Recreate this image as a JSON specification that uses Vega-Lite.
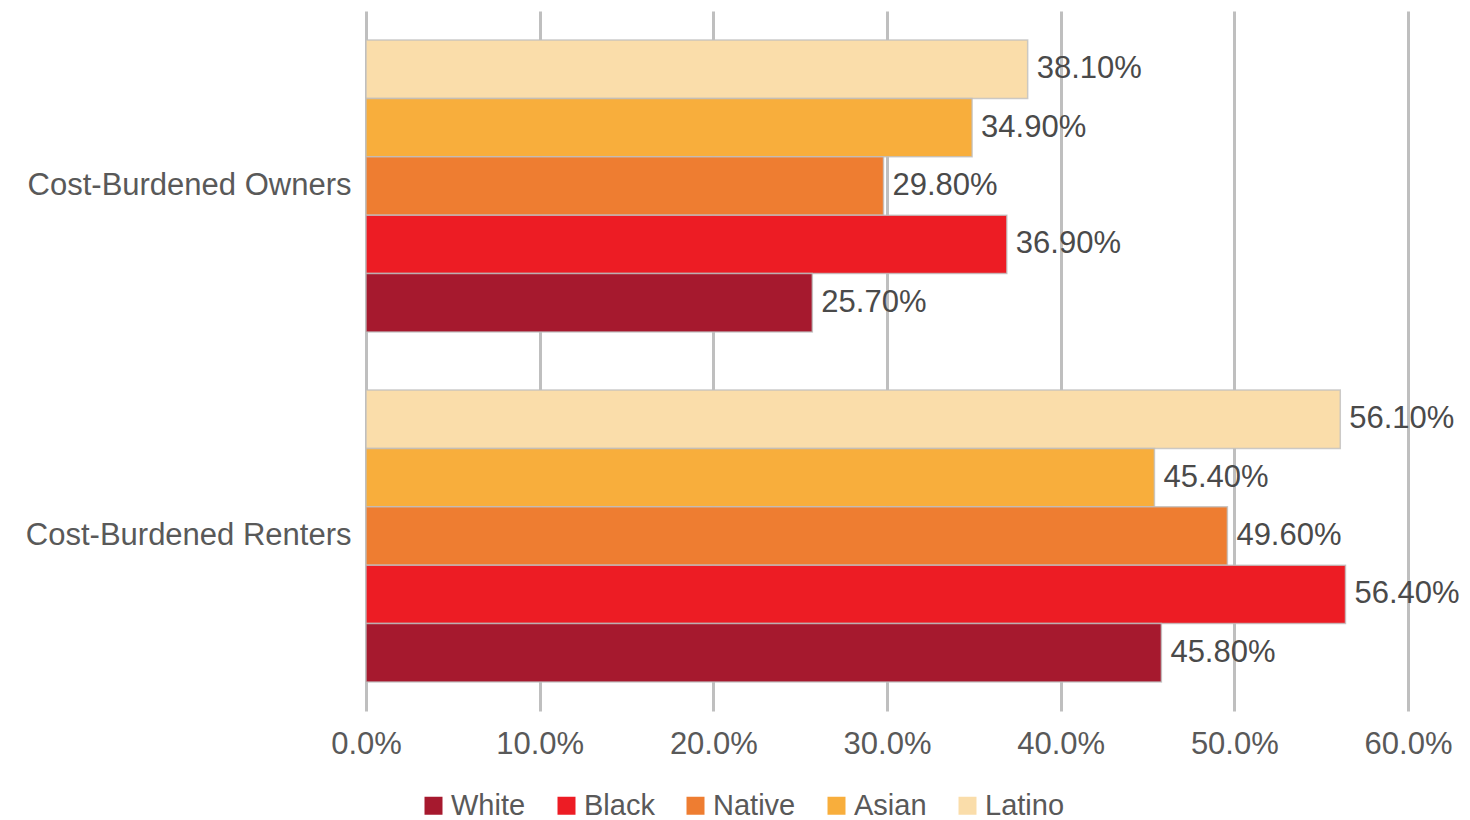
{
  "$schema": "https://vega.github.io/schema/vega-lite/v6.json",
  "width": 1042,
  "height": 700,
  "autosize": {"type": "none"},
  "padding": {"left": 366, "top": 11, "right": 62, "bottom": 109},
  "background": "white",
  "config": {
    "font": "Liberation Sans",
    "view": {"stroke": null}
  },
  "data": {
    "values": [
      {"group": "Cost-Burdened Owners", "race": "Latino", "value": 0.381},
      {"group": "Cost-Burdened Owners", "race": "Asian", "value": 0.349},
      {"group": "Cost-Burdened Owners", "race": "Native", "value": 0.298},
      {"group": "Cost-Burdened Owners", "race": "Black", "value": 0.369},
      {"group": "Cost-Burdened Owners", "race": "White", "value": 0.257},
      {"group": "Cost-Burdened Renters", "race": "Latino", "value": 0.561},
      {"group": "Cost-Burdened Renters", "race": "Asian", "value": 0.454},
      {"group": "Cost-Burdened Renters", "race": "Native", "value": 0.496},
      {"group": "Cost-Burdened Renters", "race": "Black", "value": 0.564},
      {"group": "Cost-Burdened Renters", "race": "White", "value": 0.458}
    ]
  },
  "encoding": {
    "y": {
      "field": "group",
      "type": "nominal",
      "sort": ["Cost-Burdened Owners", "Cost-Burdened Renters"],
      "scale": {"paddingInner": 0.166, "paddingOuter": 0.083},
      "axis": {
        "title": null,
        "ticks": false,
        "domain": false,
        "labelFontSize": 31,
        "labelColor": "#595959",
        "labelPadding": 15,
        "labelLimit": 400
      }
    },
    "yOffset": {
      "field": "race",
      "type": "nominal",
      "sort": ["Latino", "Asian", "Native", "Black", "White"],
      "scale": {"paddingInner": 0, "paddingOuter": 0}
    },
    "x": {
      "field": "value",
      "type": "quantitative",
      "scale": {"domain": [0, 0.6], "nice": false},
      "axis": {
        "title": null,
        "format": ".1%",
        "values": [0, 0.1, 0.2, 0.3, 0.4, 0.5, 0.6],
        "grid": true,
        "gridColor": "#BFBFBF",
        "gridWidth": 3,
        "domain": false,
        "ticks": false,
        "labelFontSize": 31,
        "labelColor": "#595959",
        "labelPadding": 18,
        "labelFlush": false
      }
    }
  },
  "layer": [
    {
      "mark": {"type": "bar", "stroke": "#BFBFBF", "strokeWidth": 1.5, "strokeOpacity": 0.8},
      "encoding": {
        "color": {
          "field": "race",
          "type": "nominal",
          "scale": {
            "domain": ["White", "Black", "Native", "Asian", "Latino"],
            "range": ["#A6192E", "#ED1C24", "#EE7D31", "#F8AE3C", "#FADDAA"]
          },
          "legend": {
            "title": null,
            "orient": "none",
            "direction": "horizontal",
            "legendX": 53,
            "legendY": 780,
            "symbolType": "square",
            "symbolSize": 324,
            "symbolStrokeWidth": 0,
            "labelFontSize": 29,
            "labelColor": "#595959",
            "labelOffset": 3,
            "columnPadding": 26,
            "symbolOffset": 0
          }
        }
      }
    },
    {
      "mark": {"type": "text", "align": "left", "baseline": "middle", "dx": 9, "fontSize": 31, "color": "#4a4a4a"},
      "encoding": {
        "text": {"field": "value", "type": "quantitative", "format": ".2%"}
      }
    }
  ]
}
